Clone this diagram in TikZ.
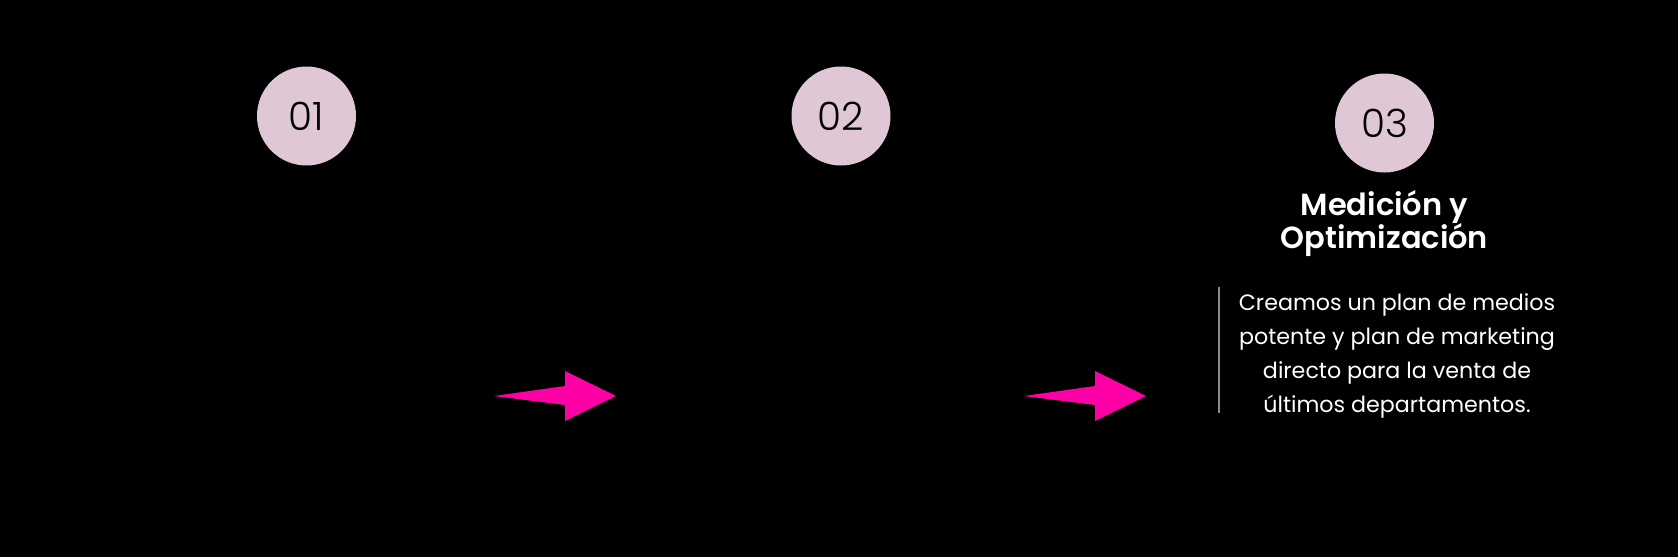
\documentclass[tikz,border=0pt]{standalone}
\usepackage{fontspec}
\setmainfont{Poppins}
\newfontfamily\numfont{Poppins Light}
\newfontfamily\titlefont{Poppins SemiBold}
\definecolor{mauve}{HTML}{DFC7D5}
\definecolor{hotpink}{HTML}{FF00A6}
\definecolor{rulegray}{HTML}{8A8A8A}
\tikzset{
  stepcircle/.style={circle, fill=mauve, minimum size=99pt, inner sep=0pt, font=\numfont\fontsize{39}{39}\selectfont, text=black},
  bigarrow/.style={fill=hotpink},
  titletext/.style={align=center, text=white, font=\titlefont\fontsize{30.5}{33}\selectfont},
  bodytext/.style={align=center, text=white, font=\fontsize{22.2}{34.2}\selectfont}
}
\begin{document}
\begin{tikzpicture}[x=1pt,y=-1pt]
\useasboundingbox (0,0) rectangle (1678,557);
\fill[black] (0,0) rectangle (1678,557);
\node[stepcircle] (c1) at (306.5,116) {01};
\node[stepcircle] (c2) at (841,116) {02};
\node[stepcircle] (c3) at (1384.5,123) {03};
\node[titletext] (t3) at (1384.5,223.5) {Medición y\\Optimización};
\node[bodytext] (b3) at (1397,356) {Creamos un plan de medios\\potente y plan de marketing\\directo para la venta de\\últimos departamentos.};
\draw[rulegray, line width=1.2pt] (1219,287) -- (1219,413);
\fill[bigarrow] (494,396) -- (565,386) -- (565,371) -- (616,396) -- (565,421) -- (565,405) -- cycle;
\fill[bigarrow] (1024,396) -- (1095,386) -- (1095,371) -- (1146,396) -- (1095,421) -- (1095,405) -- cycle;
\end{tikzpicture}
\end{document}
